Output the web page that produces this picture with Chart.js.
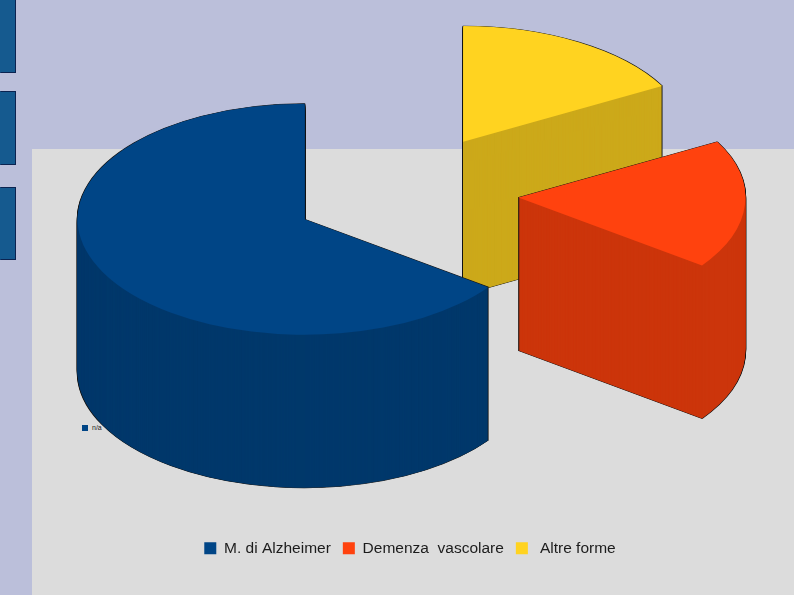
<!DOCTYPE html>
<html>
<head>
<meta charset="utf-8">
<style>
html,body{margin:0;padding:0;width:794px;height:595px;overflow:hidden;background:#bbbfda}
.panel{position:absolute;left:32px;top:149px;width:762px;height:446px;background:#dcdcdc}
.tab{position:absolute;left:0;width:14px;background:#155a8f;border:1px solid #0b2350;border-left-color:#155a8f}
.mini{position:absolute;left:82px;top:425px;width:6px;height:6px;background:#004586}
.minitext{position:absolute;left:92px;top:424px;font:7px "Liberation Sans",sans-serif;color:#222;line-height:8px}
canvas{position:absolute;left:0;top:0}
</style>
<script src="https://cdn.jsdelivr.net/npm/chart.js@4/dist/chart.umd.min.js"></script>
</head>
<body>
<div class="panel"></div>
<div class="tab" style="top:-1px;height:72px"></div>
<div class="tab" style="top:91px;height:72px"></div>
<div class="tab" style="top:187px;height:71px"></div>
<div class="mini"></div><div class="minitext">n/a</div>
<canvas id="c" width="794" height="595"></canvas>
<script>
const categories = ['M. di Alzheimer', 'Demenza  vascolare', ' Altre forme'];
const shares = [65, 18, 17];
const topColors = ['#004586', '#ff420e', '#ffd320'];
const wallColors = ['#00386b', '#cc350b', '#cca91a'];
const explode = [110, 116, 119];

// The slices run clockwise from 12 o'clock starting with the last category.
const rev = a => a.slice().reverse();

const view = {cx: 402.6, cy: 193.8, squash: 0.509, depth: 153, outline: '#141414'};

const pie3d = {
  id: 'pie3d',
  beforeDatasetsDraw(chart) {
    const ctx = chart.ctx;
    const arcs = chart.getDatasetMeta(0).data;
    const walls = rev(wallColors), ex = rev(explode);
    const place = (arc, i, d) => {
      const mid = (arc.startAngle + arc.endAngle) / 2;
      ctx.setTransform(1, 0, 0, 1, 0, 0);
      ctx.translate(view.cx + Math.cos(mid) * ex[i],
                    view.cy + d + Math.sin(mid) * ex[i] * view.squash);
      ctx.scale(1, view.squash);
      ctx.translate(-arc.x, -arc.y);
    };
    const paint = (arc, opts) => {
      const saved = arc.options;
      arc.options = Object.assign({}, saved, {offset: 0}, opts);
      arc.draw(ctx);
      arc.options = saved;
    };
    ctx.save();
    arcs.forEach((arc, i) => {
      const line = {backgroundColor: view.outline, borderColor: view.outline, borderWidth: 1.6};
      for (let d = view.depth; d >= 0; d--) { place(arc, i, d); paint(arc, line); }
      for (let d = view.depth; d >= 1; d--) {
        place(arc, i, d);
        paint(arc, {backgroundColor: walls[i], borderColor: walls[i], borderWidth: 0});
      }
      place(arc, i, 0);
      paint(arc, {borderWidth: 0});
    });
    ctx.restore();
    return false;
  }
};

new Chart(document.getElementById('c'), {
  type: 'pie',
  plugins: [pie3d],
  data: {
    labels: rev(categories),
    datasets: [{data: rev(shares), backgroundColor: rev(topColors), borderWidth: 0}]
  },
  options: {
    responsive: false,
    animation: false,
    radius: 227,
    layout: {padding: {bottom: 29, left: 26}},
    plugins: {
      tooltip: {enabled: false},
      legend: {
        position: 'bottom',
        reverse: true,
        labels: {
          boxWidth: 12, boxHeight: 12, padding: 12,
          color: '#1c1c1c',
          font: {family: '"Liberation Sans", Arial, sans-serif', size: 15.5}
        }
      }
    }
  }
});
</script>
</body>
</html>
